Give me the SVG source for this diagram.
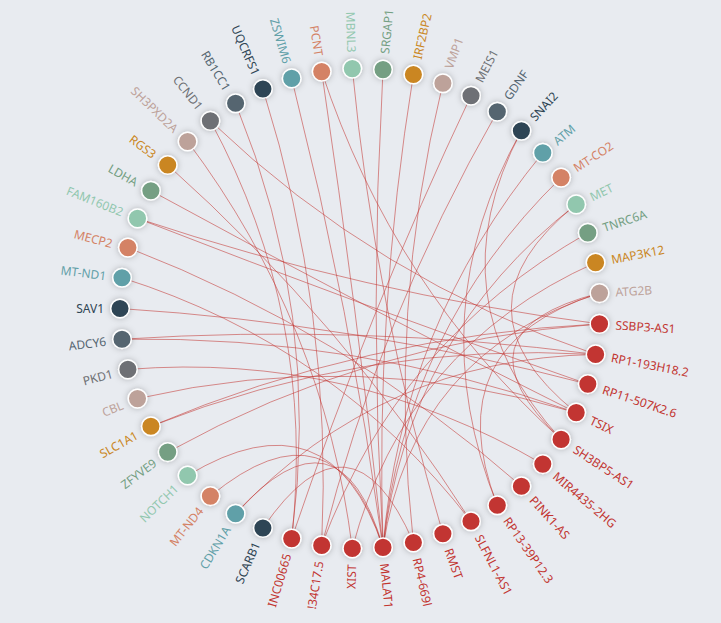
<svg xmlns="http://www.w3.org/2000/svg" width="721" height="623" viewBox="0 0 721 623">
<style>
text{font-family:"Noto Sans","Open Sans","Liberation Sans",sans-serif;font-size:12px;dominant-baseline:central}
.e path{fill:none;stroke:#c23531;stroke-opacity:0.55;stroke-width:1}
circle{stroke:#fff;stroke-width:1.5;filter:url(#sh)}
.c0 circle,.c0 text{fill:#c23531}
.m0 circle,.m0 text{fill:#2f4554}
.m1 circle,.m1 text{fill:#61a0a8}
.m2 circle,.m2 text{fill:#d48265}
.m3 circle,.m3 text{fill:#91c7ae}
.m4 circle,.m4 text{fill:#749f83}
.m5 circle,.m5 text{fill:#ca8622}
.m6 circle,.m6 text{fill:#bda29a}
.m7 circle,.m7 text{fill:#6e7074}
.m8 circle,.m8 text{fill:#546570}
text{stroke:none;filter:none}
.s{text-anchor:start}.n{text-anchor:end}
</style>
<defs>
<filter id="sh" x="-60%" y="-60%" width="220%" height="220%"><feDropShadow dx="0" dy="0" stdDeviation="3" flood-color="#000" flood-opacity="0.25"/></filter>
</defs>
<rect width="721" height="623" fill="#e8ebf0"/>
<g id="edges" class="e">
<path d="M187.6,141.5 Q324.0,323.1 352.3,548.4"/>
<path d="M210.4,120.9 Q316.4,317.0 291.7,538.6"/>
<path d="M210.4,120.9 Q377.2,280.2 595.6,354.4"/>
<path d="M235.6,103.3 Q321.5,313.5 291.7,538.6"/>
<path d="M262.9,89.0 Q332.9,312.0 321.7,545.4"/>
<path d="M291.7,78.4 Q350.9,310.3 383.0,547.4"/>
<path d="M321.7,71.6 Q356.9,308.9 383.0,547.4"/>
<path d="M321.7,71.6 Q392.6,287.3 561.1,439.4"/>
<path d="M352.3,68.6 Q375.0,305.6 442.9,533.7"/>
<path d="M383.0,69.6 Q369.2,308.5 383.0,547.4"/>
<path d="M413.4,74.5 Q375.3,309.5 383.0,547.4"/>
<path d="M442.9,83.3 Q387.3,310.3 413.4,542.5"/>
<path d="M471.0,95.7 Q368.5,312.0 291.7,538.6"/>
<path d="M497.3,111.7 Q379.8,316.5 321.7,545.4"/>
<path d="M521.4,130.8 Q419.7,312.3 497.3,505.3"/>
<path d="M521.4,130.8 Q432.5,299.1 561.1,439.4"/>
<path d="M542.8,152.9 Q401.2,325.2 383.0,547.4"/>
<path d="M561.1,177.6 Q404.8,330.1 383.0,547.4"/>
<path d="M576.2,204.4 Q407.8,335.5 383.0,547.4"/>
<path d="M576.2,204.4 Q446.5,308.5 576.2,412.6"/>
<path d="M587.8,232.9 Q397.9,340.8 321.7,545.4"/>
<path d="M595.6,262.6 Q405.6,347.3 352.3,548.4"/>
<path d="M599.5,293.1 Q435.4,344.8 497.3,505.3"/>
<path d="M599.5,293.1 Q412.5,353.2 383.0,547.4"/>
<path d="M599.5,293.1 Q448.1,331.6 561.1,439.4"/>
<path d="M137.5,218.4 Q363.4,293.6 599.5,323.9"/>
<path d="M137.5,218.4 Q361.1,305.6 587.8,384.1"/>
<path d="M127.9,247.6 Q345.9,331.9 521.4,486.2"/>
<path d="M122.0,277.8 Q334.6,344.9 471.0,521.3"/>
<path d="M150.9,190.7 Q361.4,305.8 576.2,412.6"/>
<path d="M167.7,165.0 Q343.7,322.4 471.0,521.3"/>
<path d="M120.0,308.5 Q357.6,323.6 587.8,384.1"/>
<path d="M122.0,339.2 Q359.5,323.8 595.6,354.4"/>
<path d="M122.0,339.2 Q355.6,335.5 576.2,412.6"/>
<path d="M127.9,369.4 Q350.1,351.8 542.8,464.1"/>
<path d="M137.5,398.6 Q358.7,347.3 576.2,412.6"/>
<path d="M150.9,426.3 Q366.1,335.1 599.5,323.9"/>
<path d="M150.9,426.3 Q365.3,341.2 595.6,354.4"/>
<path d="M167.7,452.1 Q369.4,340.3 599.5,323.9"/>
<path d="M187.6,475.5 Q330.1,389.7 383.0,547.4"/>
<path d="M210.4,496.1 Q334.7,393.8 383.0,547.4"/>
<path d="M235.6,513.7 Q339.7,397.3 383.0,547.4"/>
<path d="M235.6,513.7 Q382.2,358.7 595.6,354.4"/>
<path d="M262.9,528.0 Q351.3,399.2 413.4,542.5"/>
</g>
<g id="n-SSBP3-AS1" class="c0"><circle cx="599.5" cy="323.9" r="9.3"/><text class="s" transform="translate(615.5 324.9) rotate(3.67)">SSBP3-AS1</text></g>
<g id="n-RP1-193H18.2" class="c0"><circle cx="595.6" cy="354.4" r="9.3"/><text class="s" transform="translate(611.3 357.4) rotate(11.02)">RP1-193H18.2</text></g>
<g id="n-RP11-507K2.6" class="c0"><circle cx="587.8" cy="384.1" r="9.3"/><text class="s" transform="translate(603.0 389.2) rotate(18.37)">RP11-507K2.6</text></g>
<g id="n-TSIX" class="c0"><circle cx="576.2" cy="412.6" r="9.3"/><text class="s" transform="translate(590.6 419.6) rotate(25.71)">TSIX</text></g>
<g id="n-SH3BP5-AS1" class="c0"><circle cx="561.1" cy="439.4" r="9.3"/><text class="s" transform="translate(574.6 448.2) rotate(33.06)">SH3BP5-AS1</text></g>
<g id="n-MIR4435-2HG" class="c0"><circle cx="542.8" cy="464.1" r="9.3"/><text class="s" transform="translate(554.9 474.4) rotate(40.41)">MIR4435-2HG</text></g>
<g id="n-PINK1-AS" class="c0"><circle cx="521.4" cy="486.2" r="9.3"/><text class="s" transform="translate(532.1 498.0) rotate(47.76)">PINK1-AS</text></g>
<g id="n-RP13-39P12.3" class="c0"><circle cx="497.3" cy="505.3" r="9.3"/><text class="s" transform="translate(506.5 518.5) rotate(55.10)">RP13-39P12.3</text></g>
<g id="n-SLFNL1-AS1" class="c0"><circle cx="471.0" cy="521.3" r="9.3"/><text class="s" transform="translate(478.4 535.5) rotate(62.45)">SLFNL1-AS1</text></g>
<g id="n-RMST" class="c0"><circle cx="442.9" cy="533.7" r="9.3"/><text class="s" transform="translate(448.4 548.7) rotate(69.80)">RMST</text></g>
<g id="n-RP4-669l" class="c0"><circle cx="413.4" cy="542.5" r="9.3"/><text class="s" transform="translate(417.0 558.1) rotate(77.14)">RP4-669l</text></g>
<g id="n-MALAT1" class="c0"><circle cx="383.0" cy="547.4" r="9.3"/><text class="s" transform="translate(384.6 563.3) rotate(84.49)">MALAT1</text></g>
<g id="n-XIST" class="c0"><circle cx="352.3" cy="548.4" r="9.3"/><text class="n" transform="translate(351.8 564.4) rotate(-88.16)">XIST</text></g>
<g id="n-34C17.5" class="c0"><circle cx="321.7" cy="545.4" r="9.3"/><text class="n" transform="translate(319.1 561.2) rotate(-80.82)">!34C17.5</text></g>
<g id="n-LINC00665" class="c0"><circle cx="291.7" cy="538.6" r="9.3"/><text class="n" transform="translate(287.2 553.9) rotate(-73.47)">INC00665</text></g>
<g id="n-SCARB1" class="m0"><circle cx="262.9" cy="528.0" r="9.3"/><text class="n" transform="translate(256.4 542.6) rotate(-66.12)">SCARB1</text></g>
<g id="n-CDKN1A" class="m1"><circle cx="235.6" cy="513.7" r="9.3"/><text class="n" transform="translate(227.3 527.4) rotate(-58.78)">CDKN1A</text></g>
<g id="n-MT-ND4" class="m2"><circle cx="210.4" cy="496.1" r="9.3"/><text class="n" transform="translate(200.4 508.7) rotate(-51.43)">MT-ND4</text></g>
<g id="n-NOTCH1" class="m3"><circle cx="187.6" cy="475.5" r="9.3"/><text class="n" transform="translate(176.1 486.6) rotate(-44.08)">NOTCH1</text></g>
<g id="n-ZFYVE9" class="m4"><circle cx="167.7" cy="452.1" r="9.3"/><text class="n" transform="translate(154.8 461.6) rotate(-36.73)">ZFYVE9</text></g>
<g id="n-SLC1A1" class="m5"><circle cx="150.9" cy="426.3" r="9.3"/><text class="n" transform="translate(136.9 434.1) rotate(-29.39)">SLC1A1</text></g>
<g id="n-CBL" class="m6"><circle cx="137.5" cy="398.6" r="9.3"/><text class="n" transform="translate(122.7 404.6) rotate(-22.04)">CBL</text></g>
<g id="n-PKD1" class="m7"><circle cx="127.9" cy="369.4" r="9.3"/><text class="n" transform="translate(112.4 373.4) rotate(-14.69)">PKD1</text></g>
<g id="n-ADCY6" class="m8"><circle cx="122.0" cy="339.2" r="9.3"/><text class="n" transform="translate(106.1 341.2) rotate(-7.35)">ADCY6</text></g>
<g id="n-SAV1" class="m0"><circle cx="120.0" cy="308.5" r="9.3"/><text class="n" transform="translate(104.0 308.5)">SAV1</text></g>
<g id="n-MT-ND1" class="m1"><circle cx="122.0" cy="277.8" r="9.3"/><text class="n" transform="translate(106.1 275.8) rotate(7.35)">MT-ND1</text></g>
<g id="n-MECP2" class="m2"><circle cx="127.9" cy="247.6" r="9.3"/><text class="n" transform="translate(112.4 243.6) rotate(14.69)">MECP2</text></g>
<g id="n-FAM160B2" class="m3"><circle cx="137.5" cy="218.4" r="9.3"/><text class="n" transform="translate(122.7 212.4) rotate(22.04)">FAM160B2</text></g>
<g id="n-LDHA" class="m4"><circle cx="150.9" cy="190.7" r="9.3"/><text class="n" transform="translate(136.9 182.9) rotate(29.39)">LDHA</text></g>
<g id="n-RGS3" class="m5"><circle cx="167.7" cy="165.0" r="9.3"/><text class="n" transform="translate(154.8 155.4) rotate(36.73)">RGS3</text></g>
<g id="n-SH3PXD2A" class="m6"><circle cx="187.6" cy="141.5" r="9.3"/><text class="n" transform="translate(176.1 130.4) rotate(44.08)">SH3PXD2A</text></g>
<g id="n-CCND1" class="m7"><circle cx="210.4" cy="120.9" r="9.3"/><text class="n" transform="translate(200.4 108.3) rotate(51.43)">CCND1</text></g>
<g id="n-RB1CC1" class="m8"><circle cx="235.6" cy="103.3" r="9.3"/><text class="n" transform="translate(227.3 89.6) rotate(58.78)">RB1CC1</text></g>
<g id="n-UQCRFS1" class="m0"><circle cx="262.9" cy="89.0" r="9.3"/><text class="n" transform="translate(256.4 74.4) rotate(66.12)">UQCRFS1</text></g>
<g id="n-ZSWIM6" class="m1"><circle cx="291.7" cy="78.4" r="9.3"/><text class="n" transform="translate(287.2 63.1) rotate(73.47)">ZSWIM6</text></g>
<g id="n-PCNT" class="m2"><circle cx="321.7" cy="71.6" r="9.3"/><text class="n" transform="translate(319.1 55.8) rotate(80.82)">PCNT</text></g>
<g id="n-MBNL3" class="m3"><circle cx="352.3" cy="68.6" r="9.3"/><text class="n" transform="translate(351.8 52.6) rotate(88.16)">MBNL3</text></g>
<g id="n-SRGAP1" class="m4"><circle cx="383.0" cy="69.6" r="9.3"/><text class="s" transform="translate(384.6 53.7) rotate(-84.49)">SRGAP1</text></g>
<g id="n-IRF2BP2" class="m5"><circle cx="413.4" cy="74.5" r="9.3"/><text class="s" transform="translate(417.0 58.9) rotate(-77.14)">IRF2BP2</text></g>
<g id="n-VMP1" class="m6"><circle cx="442.9" cy="83.3" r="9.3"/><text class="s" transform="translate(448.4 68.3) rotate(-69.80)">VMP1</text></g>
<g id="n-MEIS1" class="m7"><circle cx="471.0" cy="95.7" r="9.3"/><text class="s" transform="translate(478.4 81.5) rotate(-62.45)">MEIS1</text></g>
<g id="n-GDNF" class="m8"><circle cx="497.3" cy="111.7" r="9.3"/><text class="s" transform="translate(506.5 98.5) rotate(-55.10)">GDNF</text></g>
<g id="n-SNAI2" class="m0"><circle cx="521.4" cy="130.8" r="9.3"/><text class="s" transform="translate(532.1 119.0) rotate(-47.76)">SNAI2</text></g>
<g id="n-ATM" class="m1"><circle cx="542.8" cy="152.9" r="9.3"/><text class="s" transform="translate(554.9 142.6) rotate(-40.41)">ATM</text></g>
<g id="n-MT-CO2" class="m2"><circle cx="561.1" cy="177.6" r="9.3"/><text class="s" transform="translate(574.6 168.8) rotate(-33.06)">MT-CO2</text></g>
<g id="n-MET" class="m3"><circle cx="576.2" cy="204.4" r="9.3"/><text class="s" transform="translate(590.6 197.4) rotate(-25.71)">MET</text></g>
<g id="n-TNRC6A" class="m4"><circle cx="587.8" cy="232.9" r="9.3"/><text class="s" transform="translate(603.0 227.8) rotate(-18.37)">TNRC6A</text></g>
<g id="n-MAP3K12" class="m5"><circle cx="595.6" cy="262.6" r="9.3"/><text class="s" transform="translate(611.3 259.6) rotate(-11.02)">MAP3K12</text></g>
<g id="n-ATG2B" class="m6"><circle cx="599.5" cy="293.1" r="9.3"/><text class="s" transform="translate(615.5 292.1) rotate(-3.67)">ATG2B</text></g>
</svg>
